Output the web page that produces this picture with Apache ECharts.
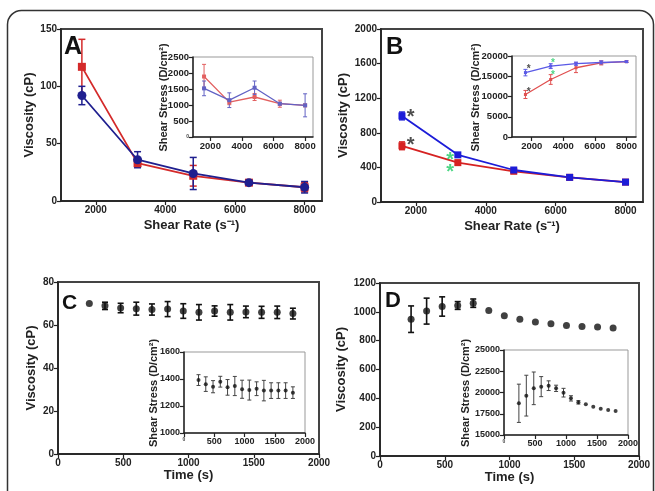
<!DOCTYPE html>
<html>
<head>
<meta charset="utf-8">
<script src="https://cdn.jsdelivr.net/npm/echarts@6/dist/echarts.min.js"></script>
<style>
  html, body { margin: 0; padding: 0; background: #fff; }
  #main { width: 655px; height: 491px; }
</style>
</head>
<body>
<div id="main"></div>
<script>
// ---- data ----
const shearRate = [1600, 3200, 4800, 6400, 8000];
const timeSec = [240, 360, 480, 600, 720, 840, 960, 1080, 1200, 1320, 1440, 1560, 1680, 1800];

// A: viscosity vs shear rate
const aViscRed = [117, 33, 22, 16, 12];
const aViscRedErr = [24, 3, 9, 2, 4];
const aViscBlue = [92, 36, 24, 16, 12];
const aViscBlueErr = [8, 7, 14, 1, 5];
// A inset: shear stress
const aStressRed = [1890, 1090, 1250, 1040, 990];
const aStressRedErr = [380, 80, 110, 110, 0];
const aStressBlue = [1520, 1150, 1540, 1040, 990];
const aStressBlueErr = [230, 230, 210, 40, 360];

// B
const bViscBlue = [995, 545, 370, 285, 230];
const bViscBlueErr = [45, 15, 15, 10, 10];
const bViscRed = [650, 455, 355, 285, 230];
const bViscRedErr = [45, 25, 20, 10, 10];
const bStressBlue = [15900, 17500, 18100, 18400, 18600];
const bStressBlueErr = [800, 600, 400, 400, 200];
const bStressRed = [10500, 14200, 17100, 18300, 18600];
const bStressRedErr = [1000, 1200, 1200, 500, 200];
// significance stars (x, y)
const bStarsBlack = [[1850, 1040], [1850, 720]];
const bStarsGreen = [[2980, 550], [2980, 410]];
const bInsetStarsBlack = [[1800, 17500], [1800, 11800]];
const bInsetStarsGreen = [[3350, 18800], [3350, 15900]];

// C: viscosity vs time
const cVisc = [70.0, 68.9, 67.9, 67.6, 67.2, 67.4, 66.5, 65.9, 66.5, 65.9, 66.1, 65.9, 65.9, 65.3];
const cViscErr = [0, 1.7, 2.2, 3.0, 2.6, 3.5, 3.4, 3.6, 2.4, 3.6, 2.7, 2.8, 2.9, 2.5];
const cStress = [1392, 1362, 1343, 1380, 1338, 1348, 1324, 1318, 1328, 1314, 1314, 1314, 1314, 1299];
const cStressErr = [40, 54, 45, 40, 58, 71, 67, 74, 51, 76, 58, 58, 58, 43];

// D
const dVisc = [949, 1005, 1037, 1044, 1060, 1009, 972, 949, 929, 917, 905, 898, 894, 887];
const dViscErr = [92, 90, 67, 27, 29, 0, 0, 0, 0, 0, 0, 0, 0, 0];
const dStress = [18730, 19630, 20490, 20690, 20800, 20490, 19980, 19310, 18840, 18610, 18330, 18100, 17940, 17820];
const dStressErr = [2250, 2400, 1920, 1180, 570, 370, 510, 310, 200, 0, 0, 0, 0, 0];

const font = 'Liberation Sans, Arial, sans-serif';
const srLabels = [2000, 4000, 6000, 8000];

function zip(xs, ys, es) {
  return xs.map((x, i) => es ? [x, ys[i], es[i]] : [x, ys[i]]);
}

// error bars drawn through the axis scale
function errBars(g, data, color, capW, lw) {
  return {
    type: 'custom', xAxisIndex: g, yAxisIndex: g, data: data, z: 3,
    encode: { x: 0, y: 1 },
    renderItem: function (params, api) {
      const x = api.value(0), y = api.value(1), e = api.value(2);
      if (!e) return null;
      const hi = api.coord([x, y + e]);
      const lo = api.coord([x, y - e]);
      const h = capW / 2;
      const st = { stroke: color, lineWidth: lw };
      return {
        type: 'group', children: [
          { type: 'line', shape: { x1: hi[0], y1: hi[1], x2: lo[0], y2: lo[1] }, style: st },
          { type: 'line', shape: { x1: hi[0] - h, y1: hi[1], x2: hi[0] + h, y2: hi[1] }, style: st },
          { type: 'line', shape: { x1: lo[0] - h, y1: lo[1], x2: lo[0] + h, y2: lo[1] }, style: st }
        ]
      };
    }
  };
}

function lineSeries(g, data, color, symbol, size, lw) {
  return {
    type: 'line', xAxisIndex: g, yAxisIndex: g, data: data, z: 4,
    symbol: symbol, symbolSize: size, showSymbol: true,
    itemStyle: { color: color },
    lineStyle: { color: color, width: lw },
    emphasis: { disabled: true }
  };
}

function dots(g, data, color, size) {
  return {
    type: 'scatter', xAxisIndex: g, yAxisIndex: g, data: data, z: 4,
    symbol: 'circle', symbolSize: size, itemStyle: { color: color }
  };
}

function stars(g, data, color, fs) {
  return {
    type: 'scatter', xAxisIndex: g, yAxisIndex: g, data: data, z: 5,
    symbolSize: 1, itemStyle: { color: 'rgba(0,0,0,0)' },
    label: {
      show: true, position: 'inside', formatter: '*', color: color,
      fontSize: fs, fontWeight: 'bold', fontFamily: font, offset: [0, fs * 0.28]
    }
  };
}

function axis(g, min, max, fs, extra) {
  const a = {
    type: 'value', gridIndex: g, min: min, max: max,
    splitLine: { show: false },
    axisLine: { show: true, onZero: false, lineStyle: { color: '#222', width: 1.5 } },
    axisTick: { show: true, length: 4, lineStyle: { color: '#222', width: 1.2 } },
    axisLabel: {
      color: '#222', fontWeight: 'bold', fontSize: fs, fontFamily: font, margin: 4,
      formatter: v => String(v),
      rich: { s: { fontSize: 5, fontWeight: 'bold', color: '#444' } }
    }
  };
  if (extra) {
    if (extra.interval) a.interval = extra.interval;
    if (extra.custom) {
      a.axisLabel.customValues = extra.custom;
      a.axisTick.customValues = extra.custom;
    }
    if (extra.smallZero) a.axisLabel.formatter = v => v === 0 ? '{s|0}' : String(v);
    if (extra.name) {
      a.name = extra.name;
      a.nameLocation = 'middle';
      a.nameGap = extra.gap;
      if (extra.rot) a.nameRotate = 90;
      a.nameTextStyle = { fontSize: 13, fontWeight: 'bold', fontFamily: font, color: '#222' };
    }
  }
  return a;
}

function mainGrid(l, t, w, h) {
  return { left: l, top: t, width: w, height: h, show: true, borderColor: '#444', borderWidth: 2, containLabel: false };
}
function insetGrid(l, t, w, h) {
  return { left: l, top: t, width: w, height: h, show: true, borderColor: '#999', borderWidth: 1, backgroundColor: '#fff', containLabel: false };
}

function letter(ch, x, y, fs) {
  return {
    type: 'text', x: x, y: y, z: 10,
    style: { text: ch, fontSize: fs, fontWeight: 'bold', fontFamily: font, fill: '#111',
      textShadowColor: '#d88a00', textShadowOffsetX: -1, textShadowBlur: 0 }
  };
}
function vTitle(x, y) {
  return {
    type: 'text', x: x, y: y, rotation: Math.PI / 2, z: 10,
    style: { text: 'Shear Stress (D/cm²)', fontSize: 11, fontWeight: 'bold', fontFamily: font,
      fill: '#222', align: 'center', verticalAlign: 'middle' }
  };
}

const redA = '#d42a2a', blueA = '#1f1f8f';
const redAi = '#e26060', blueAi = '#6262c4';
const redB = '#d62222', blueB = '#1c1cd8';
const redBi = '#e05050', blueBi = '#5a5ae6';

const myChart = echarts.init(document.getElementById('main'));

const option = {
  animation: false,
  backgroundColor: '#fff',
  grid: [
    mainGrid(61, 29, 261, 172),
    insetGrid(193, 57, 120, 80),
    mainGrid(381, 29, 262, 173),
    insetGrid(512, 56, 124, 81),
    mainGrid(58, 282, 261, 172),
    insetGrid(184, 352, 121, 81),
    mainGrid(380, 283, 259, 173),
    insetGrid(504, 350, 124, 85)
  ],
  xAxis: [
    axis(0, 1000, 8500, 10, { custom: srLabels, name: 'Shear Rate (s⁻¹)', gap: 18 }),
    axis(1, 900, 8500, 9.5, { custom: srLabels }),
    axis(2, 1000, 8500, 10, { custom: srLabels, name: 'Shear Rate (s⁻¹)', gap: 18 }),
    axis(3, 750, 8600, 9.5, { custom: srLabels }),
    axis(4, 0, 2000, 10, { interval: 500, name: 'Time (s)', gap: 14 }),
    axis(5, 0, 2000, 9, { interval: 500, smallZero: true }),
    axis(6, 0, 2000, 10, { interval: 500, name: 'Time (s)', gap: 14 }),
    axis(7, 0, 2000, 9, { interval: 500, smallZero: true })
  ],
  yAxis: [
    axis(0, 0, 150, 10, { interval: 50, name: 'Viscosity (cP)', gap: 25, rot: true }),
    axis(1, 0, 2500, 9.5, { interval: 500, smallZero: true }),
    axis(2, 0, 2000, 10, { interval: 400, name: 'Viscosity (cP)', gap: 31, rot: true }),
    axis(3, 0, 20000, 9.5, { interval: 5000 }),
    axis(4, 0, 80, 10, { interval: 20, name: 'Viscosity (cP)', gap: 20, rot: true }),
    axis(5, 1000, 1600, 9, { interval: 200 }),
    axis(6, 0, 1200, 10, { interval: 200, name: 'Viscosity (cP)', gap: 32, rot: true }),
    axis(7, 15000, 25000, 9, { interval: 2500 })
  ],
  series: [
    // A main
    errBars(0, zip(shearRate, aViscRed, aViscRedErr), redA, 7, 1.5),
    errBars(0, zip(shearRate, aViscBlue, aViscBlueErr), blueA, 7, 1.5),
    lineSeries(0, zip(shearRate, aViscRed), redA, 'rect', 8, 1.8),
    lineSeries(0, zip(shearRate, aViscBlue), blueA, 'circle', 9, 1.8),
    // A inset
    errBars(1, zip(shearRate, aStressRed, aStressRedErr), redAi, 4, 1),
    errBars(1, zip(shearRate, aStressBlue, aStressBlueErr), blueAi, 4, 1),
    lineSeries(1, zip(shearRate, aStressRed), redAi, 'rect', 4, 1.3),
    lineSeries(1, zip(shearRate, aStressBlue), blueAi, 'rect', 4, 1.3),
    // B main
    errBars(2, zip(shearRate, bViscRed, bViscRedErr), redB, 6, 1.5),
    errBars(2, zip(shearRate, bViscBlue, bViscBlueErr), blueB, 6, 1.5),
    lineSeries(2, zip(shearRate, bViscRed), redB, 'rect', 7, 1.8),
    lineSeries(2, zip(shearRate, bViscBlue), blueB, 'rect', 7, 1.8),
    stars(2, bStarsBlack, '#222', 20),
    stars(2, bStarsGreen, '#22cc66', 20),
    // B inset
    errBars(3, zip(shearRate, bStressRed, bStressRedErr), redBi, 4, 1),
    errBars(3, zip(shearRate, bStressBlue, bStressBlueErr), blueBi, 4, 1),
    lineSeries(3, zip(shearRate, bStressRed), redBi, 'rect', 3, 1.3),
    lineSeries(3, zip(shearRate, bStressBlue), blueBi, 'rect', 3, 1.3),
    stars(3, bInsetStarsBlack, '#222', 10),
    stars(3, bInsetStarsGreen, '#22cc66', 10),
    // C
    errBars(4, zip(timeSec, cVisc, cViscErr), '#111', 6, 1.6),
    dots(4, zip(timeSec, cVisc), '#111', 7),
    errBars(5, zip(timeSec, cStress, cStressErr), '#444', 4, 1),
    dots(5, zip(timeSec, cStress), '#111', 4),
    // D
    errBars(6, zip(timeSec, dVisc, dViscErr), '#111', 6, 1.6),
    dots(6, zip(timeSec, dVisc), '#111', 7),
    errBars(7, zip(timeSec, dStress, dStressErr), '#444', 4, 1),
    dots(7, zip(timeSec, dStress), '#111', 4)
  ],
  graphic: [
    { type: 'rect', z: 0, shape: { x: 7.5, y: 10.5, width: 646, height: 520, r: 14 },
      style: { fill: 'none', stroke: '#333', lineWidth: 1.5 } },
    letter('A', 64, 35, 25),
    letter('B', 386, 35, 24),
    letter('C', 62, 293, 21),
    letter('D', 385, 290, 22),
    vTitle(164, 97.5),
    vTitle(475.5, 97.5),
    vTitle(153.5, 393),
    vTitle(466, 393)
  ]
};

myChart.setOption(option);
</script>
</body>
</html>
